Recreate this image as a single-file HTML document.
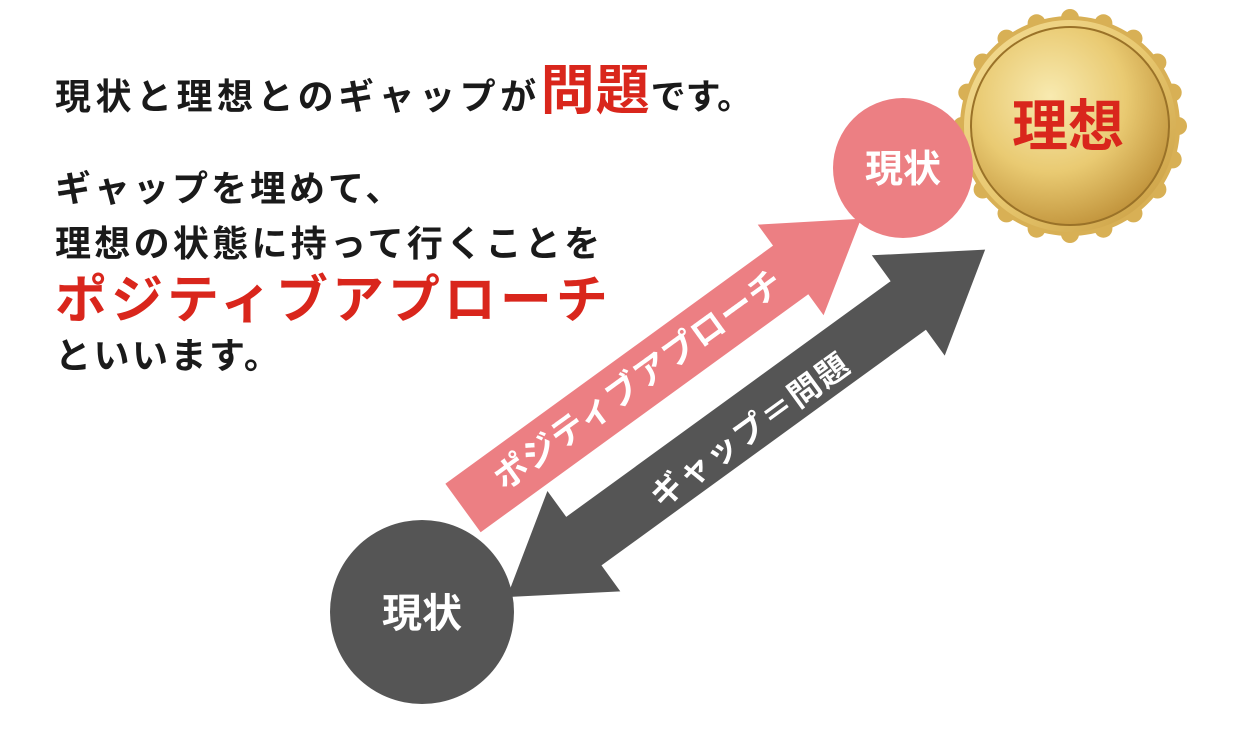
<!DOCTYPE html>
<html><head><meta charset="utf-8"><style>
html,body{margin:0;padding:0;background:#fff;}
svg{display:block;}
text{font-family:"Liberation Sans","Noto Sans CJK JP",sans-serif;font-weight:bold;}
</style></head><body>
<svg width="1248" height="730" viewBox="0 0 1248 730" xmlns="http://www.w3.org/2000/svg">
<defs>
<radialGradient id="g1" cx="40%" cy="35%" r="70%">
<stop offset="0" stop-color="#f8eab0"/><stop offset="0.55" stop-color="#e9ca72"/><stop offset="1" stop-color="#c0923a"/>
</radialGradient>
<linearGradient id="g2" x1="0" y1="0" x2="1" y2="1">
<stop offset="0" stop-color="#f3dc94"/><stop offset="0.5" stop-color="#e8c870"/><stop offset="1" stop-color="#c79a3e"/>
</linearGradient>
</defs>
<text x="55" y="109" font-size="36" fill="#1a1a1a" letter-spacing="4.5">現状と理想とのギャップが<tspan fill="#d9261c" font-size="54" letter-spacing="1">問題</tspan><tspan font-size="35" letter-spacing="0">です。</tspan></text>
<text x="55" y="201" font-size="36" fill="#1a1a1a" letter-spacing="3">ギャップを埋めて、</text>
<text x="55" y="256" font-size="36" fill="#1a1a1a" letter-spacing="3.3">理想の状態に持って行くことを</text>
<text x="55" y="318" font-size="52" fill="#d9261c" letter-spacing="4">ポジティブアプローチ</text>
<text x="55" y="368" font-size="36" fill="#1a1a1a" letter-spacing="2.5">といいます。</text>

<!-- medal -->
<g transform="translate(1070,126)">
<g fill="#d8b055">
<circle r="110"/>
<circle cx="108" cy="0" r="9"/><circle cx="102.7" cy="33.4" r="9"/><circle cx="87.4" cy="63.5" r="9"/><circle cx="63.5" cy="87.4" r="9"/><circle cx="33.4" cy="102.7" r="9"/>
<circle cx="0" cy="108" r="9"/><circle cx="-33.4" cy="102.7" r="9"/><circle cx="-63.5" cy="87.4" r="9"/><circle cx="-87.4" cy="63.5" r="9"/><circle cx="-102.7" cy="33.4" r="9"/>
<circle cx="-108" cy="0" r="9"/><circle cx="-102.7" cy="-33.4" r="9"/><circle cx="-87.4" cy="-63.5" r="9"/><circle cx="-63.5" cy="-87.4" r="9"/><circle cx="-33.4" cy="-102.7" r="9"/>
<circle cx="0" cy="-108" r="9"/><circle cx="33.4" cy="-102.7" r="9"/><circle cx="63.5" cy="-87.4" r="9"/><circle cx="87.4" cy="-63.5" r="9"/><circle cx="102.7" cy="-33.4" r="9"/>
</g>
<circle r="106" fill="url(#g2)"/>
<circle r="100" fill="#9a7228"/>
<circle r="98" fill="url(#g1)"/>
<text x="-2" y="20" font-size="56" fill="#d9261c" text-anchor="middle">理想</text>
</g>

<!-- pink arrow -->
<g transform="translate(463,508) rotate(-36)">
<polygon points="0,-30 405,-30 405,-56 492,0 405,56 405,30 0,30" fill="#ec7f83"/>
</g>
<text transform="translate(640,382) rotate(-36)" font-size="34" fill="#fff" text-anchor="middle" dominant-baseline="middle" letter-spacing="1">ポジティブアプローチ</text>

<!-- dark double arrow -->
<g transform="translate(507,597) rotate(-36)">
<polygon points="0,0 95,-62 95,-30 496,-30 496,-62 591,0 496,62 496,30 95,30 95,62" fill="#555555"/>
</g>
<text transform="translate(752,432) rotate(-36)" font-size="32" fill="#fff" text-anchor="middle" dominant-baseline="middle" letter-spacing="2">ギャップ＝問題</text>

<!-- circles -->
<circle cx="903" cy="168" r="70" fill="#ec7f83"/>
<text x="903" y="182" font-size="38" fill="#fff" text-anchor="middle">現状</text>
<circle cx="422" cy="612" r="92" fill="#555555"/>
<text x="422" y="627" font-size="40" fill="#fff" text-anchor="middle">現状</text>
</svg>
</body></html>
